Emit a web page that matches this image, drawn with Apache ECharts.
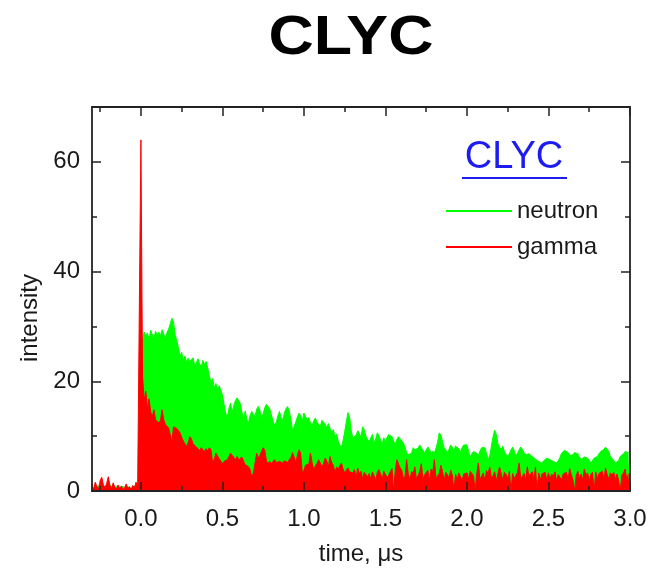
<!DOCTYPE html>
<html>
<head>
<meta charset="utf-8">
<script src="https://cdn.jsdelivr.net/npm/echarts@6/dist/echarts.min.js"></script>
<style>
html,body{margin:0;padding:0;background:#fff;}
#chart{width:654px;height:570px;}
</style>
</head>
<body>
<div id="chart"></div>
<script>
// sample times (µs)
const time = [
-0.30,-0.29,-0.28,-0.27,-0.26,-0.25,-0.24,-0.23,-0.22,-0.21,
-0.20,-0.19,-0.18,-0.17,-0.16,-0.15,-0.14,-0.13,-0.12,-0.11,
-0.10,-0.09,-0.08,-0.07,-0.06,-0.05,-0.04,-0.03,-0.02,-0.01,
0.00,0.01,0.02,0.03,0.04,0.05,0.06,0.07,0.08,0.09,
0.10,0.11,0.12,0.13,0.14,0.15,0.16,0.17,0.18,0.19,
0.20,0.21,0.22,0.23,0.24,0.25,0.26,0.27,0.28,0.29,
0.30,0.31,0.32,0.33,0.34,0.35,0.36,0.37,0.38,0.39,
0.40,0.41,0.42,0.43,0.44,0.45,0.46,0.47,0.48,0.49,
0.50,0.51,0.52,0.53,0.54,0.55,0.56,0.57,0.58,0.59,
0.60,0.61,0.62,0.63,0.64,0.65,0.66,0.67,0.68,0.69,
0.70,0.71,0.72,0.73,0.74,0.75,0.76,0.77,0.78,0.79,
0.80,0.81,0.82,0.83,0.84,0.85,0.86,0.87,0.88,0.89,
0.90,0.91,0.92,0.93,0.94,0.95,0.96,0.97,0.98,0.99,
1.00,1.01,1.02,1.03,1.04,1.05,1.06,1.07,1.08,1.09,
1.10,1.11,1.12,1.13,1.14,1.15,1.16,1.17,1.18,1.19,
1.20,1.21,1.22,1.23,1.24,1.25,1.26,1.27,1.28,1.29,
1.30,1.31,1.32,1.33,1.34,1.35,1.36,1.37,1.38,1.39,
1.40,1.41,1.42,1.43,1.44,1.45,1.46,1.47,1.48,1.49,
1.50,1.51,1.52,1.53,1.54,1.55,1.56,1.57,1.58,1.59,
1.60,1.61,1.62,1.63,1.64,1.65,1.66,1.67,1.68,1.69,
1.70,1.71,1.72,1.73,1.74,1.75,1.76,1.77,1.78,1.79,
1.80,1.81,1.82,1.83,1.84,1.85,1.86,1.87,1.88,1.89,
1.90,1.91,1.92,1.93,1.94,1.95,1.96,1.97,1.98,1.99,
2.00,2.01,2.02,2.03,2.04,2.05,2.06,2.07,2.08,2.09,
2.10,2.11,2.12,2.13,2.14,2.15,2.16,2.17,2.18,2.19,
2.20,2.21,2.22,2.23,2.24,2.25,2.26,2.27,2.28,2.29,
2.30,2.31,2.32,2.33,2.34,2.35,2.36,2.37,2.38,2.39,
2.40,2.41,2.42,2.43,2.44,2.45,2.46,2.47,2.48,2.49,
2.50,2.51,2.52,2.53,2.54,2.55,2.56,2.57,2.58,2.59,
2.60,2.61,2.62,2.63,2.64,2.65,2.66,2.67,2.68,2.69,
2.70,2.71,2.72,2.73,2.74,2.75,2.76,2.77,2.78,2.79,
2.80,2.81,2.82,2.83,2.84,2.85,2.86,2.87,2.88,2.89,
2.90,2.91,2.92,2.93,2.94,2.95,2.96,2.97,2.98,2.99,
3.00
];

// neutron intensity (green)
const neutron = [
0.5,0.8,0.4,0.6,1.0,0.7,0.5,0.9,0.6,0.4,
0.8,1.2,0.9,0.6,0.5,0.8,0.7,0.4,0.6,0.9,
0.5,0.7,0.8,0.6,0.4,0.7,0.9,0.6,0.5,0.8,
4.0,27.5,29.0,28.2,28.8,27.6,29.3,28.5,27.9,29.1,
28.4,29.0,28.2,29.4,28.6,27.8,28.9,29.5,30.5,31.5,
30.8,28.5,27.4,26.2,24.5,25.3,23.8,24.6,23.5,24.2,
23.6,23.9,24.3,22.8,23.4,24.1,23.2,22.6,23.8,23.1,
23.6,22.4,21.0,19.7,20.5,18.8,19.6,18.5,19.2,19.0,
17.5,15.8,14.2,13.5,15.1,16.0,14.4,15.6,16.5,17.0,
17.2,15.9,14.3,13.2,14.6,13.0,12.4,13.8,14.5,14.8,
13.6,14.9,15.4,14.7,13.3,14.1,15.2,15.8,16.1,15.0,
13.9,12.8,12.0,12.5,13.7,14.5,13.4,12.9,14.2,15.0,
15.4,14.6,13.1,11.1,11.8,12.6,13.5,14.2,13.8,12.7,
14.2,13.6,12.9,13.4,12.4,11.9,12.8,13.3,12.6,12.1,
11.7,12.9,13.0,12.2,11.5,12.3,11.4,10.6,11.2,9.9,
10.4,9.1,8.4,8.0,9.2,10.8,12.6,14.3,13.5,11.0,
9.6,9.3,10.2,11.0,10.5,9.8,11.7,11.2,10.0,9.4,
9.0,9.7,10.3,8.8,9.5,10.6,10.1,9.3,8.6,9.7,
9.0,9.8,10.3,10.6,9.9,9.1,8.6,9.4,9.9,9.5,
9.7,8.8,7.9,7.0,6.6,6.3,6.9,7.9,7.5,7.2,
7.8,8.4,8.1,7.4,6.9,7.5,8.0,7.6,6.9,7.3,
6.9,7.8,8.9,10.6,10.2,9.0,7.9,7.5,7.0,7.6,
8.4,8.0,7.3,8.2,8.4,7.7,7.1,7.9,8.4,8.1,
8.4,7.2,6.2,6.8,7.2,7.5,6.9,6.4,7.3,7.9,
7.6,7.9,6.8,5.7,6.5,8.2,9.9,11.1,10.3,8.6,
8.0,7.6,8.2,7.1,6.7,6.3,6.8,7.5,8.0,7.3,
6.3,6.9,7.5,8.0,7.6,7.0,6.6,6.4,6.8,6.5,
6.3,6.0,5.8,5.7,5.4,5.3,5.1,5.5,5.8,6.0,
5.9,5.7,5.6,5.4,5.2,5.1,5.5,6.1,6.9,7.2,
7.4,7.5,7.0,6.5,6.3,6.6,7.0,7.2,6.8,6.2,
5.7,5.9,6.2,6.3,6.0,5.6,5.1,5.4,6.0,6.3,
6.3,6.8,7.2,7.2,7.6,8.0,8.0,7.2,6.3,6.0,
5.6,5.1,5.1,5.5,6.3,6.3,6.8,7.2,7.2,7.0,
7.2
];

// gamma intensity (red)
const gamma = [
1.2,0.3,1.6,0.8,0.2,1.9,2.5,1.1,0.6,1.4,
2.6,1.0,0.4,1.5,0.7,0.3,1.1,0.5,0.9,0.2,
0.6,1.3,0.4,0.8,0.3,1.0,0.5,1.6,0.9,1.2,
64.0,21.0,16.5,18.2,15.0,16.8,14.4,13.6,14.8,13.0,
13.2,12.4,12.9,14.8,13.0,12.1,11.8,11.5,11.7,9.0,
11.7,11.9,11.4,11.7,10.6,9.8,9.1,8.6,8.1,8.8,
9.9,9.5,8.6,8.4,8.0,7.8,7.4,7.9,7.6,7.2,
7.7,7.3,7.9,7.5,5.1,5.8,6.9,6.4,5.9,6.2,
5.0,5.4,5.1,5.7,6.3,6.9,6.6,6.1,5.7,6.3,
5.7,5.9,6.2,5.4,4.8,5.1,4.4,3.9,2.6,3.3,
5.1,6.9,6.0,6.5,7.2,7.9,7.4,5.5,5.0,5.4,
5.0,5.3,5.7,5.2,4.9,5.4,5.7,5.1,5.5,5.7,
5.2,5.7,6.1,7.0,6.2,5.1,6.5,7.5,6.8,3.3,
3.8,4.7,4.4,4.9,6.9,5.2,3.8,4.6,5.0,5.7,
5.1,4.4,5.0,6.0,5.5,4.4,6.3,5.2,4.7,3.3,
4.4,3.9,4.6,5.1,4.0,3.3,3.8,4.2,3.5,3.8,
3.3,3.9,2.5,4.2,3.1,3.6,2.2,3.4,3.0,2.6,
3.2,2.1,3.5,2.8,1.9,3.4,3.9,3.1,2.2,3.6,
3.8,2.4,2.9,3.5,4.1,0.0,3.6,5.7,6.0,4.2,
3.8,2.3,2.7,5.7,3.1,1.9,3.6,3.2,4.4,2.2,
2.8,3.5,5.0,2.1,2.9,3.1,3.8,1.8,4.0,3.4,
5.7,2.3,2.8,3.2,4.7,3.6,1.9,3.4,3.0,2.3,
3.8,2.9,0.0,3.1,2.0,3.3,3.6,1.9,3.1,3.4,
3.3,2.2,3.6,3.8,2.8,0.0,3.2,5.1,2.1,2.7,
3.3,1.9,3.7,3.2,4.4,2.2,2.8,3.5,1.8,3.2,
4.4,3.1,2.0,3.4,3.0,2.1,3.6,0.0,3.2,2.3,
2.8,3.4,5.1,2.2,2.6,3.2,1.9,4.4,2.7,3.1,
3.5,2.1,4.4,0.0,3.3,2.0,3.1,2.9,3.4,1.9,
3.3,2.2,3.1,2.7,3.5,1.8,3.0,3.3,2.0,3.1,
2.9,3.4,2.1,4.1,3.0,2.0,0.0,2.8,3.6,2.2,
3.1,2.0,4.0,2.9,3.3,1.9,3.0,3.4,0.0,3.5,
2.2,3.2,2.9,3.6,2.0,4.2,3.0,2.1,3.3,2.9,
3.4,2.1,3.1,2.0,0.0,2.9,3.3,4.0,2.2,3.0,
3.2
];

const xMajorTicks = [0.0, 0.5, 1.0, 1.5, 2.0, 2.5, 3.0];
const xMinorTicks = [-0.25, 0.25, 0.75, 1.25, 1.75, 2.25, 2.75];
const yMajorTicks = [0, 20, 40, 60];
const yMinorTicks = [10, 30, 50];
const seriesNames = ['neutron', 'gamma'];

const FONT = "'Liberation Sans', Arial, Helvetica, sans-serif";
const INK = '#1a1a1a';
const FRAME = '#222';

function pairs(xs, ys) { return xs.map((x, i) => [x, ys[i]]); }

function xAx(pos, ticks, len, showLine, showLabel) {
  return {
    type: 'value', position: pos, min: -0.3, max: 3.0, z: 10,
    axisLine: { show: showLine, onZero: false, lineStyle: { color: FRAME, width: 1.8 } },
    axisTick: { show: true, inside: true, length: len, customValues: ticks, lineStyle: { color: FRAME, width: 1.5 } },
    axisLabel: { show: showLabel, customValues: ticks, margin: 16, fontSize: 24, fontFamily: FONT, color: INK,
      formatter: v => Number(v).toFixed(1) },
    splitLine: { show: false }
  };
}
function yAx(pos, ticks, len, showLine, showLabel) {
  return {
    type: 'value', position: pos, min: 0, max: 70, z: 10,
    axisLine: { show: showLine, onZero: false, lineStyle: { color: FRAME, width: 1.8 } },
    axisTick: { show: true, inside: true, length: len, customValues: ticks, lineStyle: { color: FRAME, width: 1.5 } },
    axisLabel: { show: showLabel, customValues: ticks, margin: 12, fontSize: 24, fontFamily: FONT, color: INK },
    splitLine: { show: false }
  };
}

const chart = echarts.init(document.getElementById('chart'), null, { renderer: 'canvas' });
chart.setOption({
  animation: false,
  backgroundColor: '#fff',
  grid: { left: 92, right: 24, top: 107, bottom: 79, containLabel: false },
  xAxis: [
    xAx('bottom', xMajorTicks, 9, true, true),
    xAx('bottom', xMinorTicks, 5, false, false),
    xAx('top', xMajorTicks, 9, true, false),
    xAx('top', xMinorTicks, 5, false, false)
  ],
  yAxis: [
    yAx('left', yMajorTicks, 9, true, true),
    yAx('left', yMinorTicks, 5, false, false),
    yAx('right', yMajorTicks, 9, true, false),
    yAx('right', yMinorTicks, 5, false, false)
  ],
  legend: {
    left: 441, top: 194, orient: 'vertical', itemGap: 12,
    itemWidth: 66, itemHeight: 2, icon: 'rect',
    selectedMode: false,
    textStyle: { fontSize: 24, fontFamily: FONT, color: INK, padding: [0, 0, 0, 0] },
    data: seriesNames
  },
  series: [
    { name: seriesNames[0], type: 'line', data: pairs(time, neutron), showSymbol: false, symbol: 'none',
      lineStyle: { color: '#00ff00', width: 1 }, itemStyle: { color: '#00ff00' },
      areaStyle: { color: '#00ff00', opacity: 1 }, z: 2 },
    { name: seriesNames[1], type: 'line', data: pairs(time, gamma), showSymbol: false, symbol: 'none',
      lineStyle: { color: '#ff0000', width: 1 }, itemStyle: { color: '#ff0000' },
      areaStyle: { color: '#ff0000', opacity: 1 }, z: 3 }
  ],
  graphic: [
    { type: 'text', x: 351, y: 39, scaleX: 1.14, scaleY: 1,
      style: { text: 'CLYC', x: 0, y: 0, align: 'center', verticalAlign: 'middle',
      font: "bold 55px " + FONT, fill: '#000' } },
    { type: 'text', style: { text: 'CLYC', x: 514, y: 158, align: 'center', verticalAlign: 'middle',
      font: "38px " + FONT, fill: '#1c1cf0' } },
    { type: 'line', shape: { x1: 462, y1: 178, x2: 567, y2: 178 }, style: { stroke: '#1c1cf0', lineWidth: 2 } },
    { type: 'text', style: { text: 'time, μs', x: 361, y: 554, align: 'center', verticalAlign: 'middle',
      font: "24px " + FONT, fill: INK } },
    { type: 'text', rotation: Math.PI / 2, x: 30, y: 318, style: { text: 'intensity', x: 0, y: 0, align: 'center', verticalAlign: 'middle',
      font: "24px " + FONT, fill: INK } }
  ]
});
</script>
</body>
</html>
